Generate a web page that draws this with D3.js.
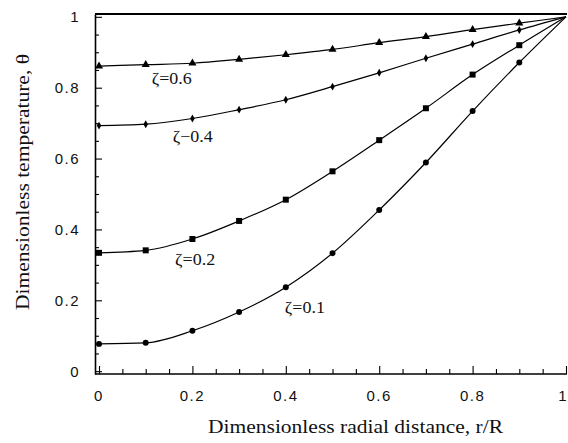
<!DOCTYPE html>
<html>
<head>
<meta charset="utf-8">
<script src="https://cdn.jsdelivr.net/npm/d3@7"></script>
<style>
  body { margin: 0; background: #fff; }
  .tickLabel { font-family: "Liberation Sans", Arial, sans-serif; font-size: 15px; letter-spacing: 1.5px; fill: #111; }
  .axisTitle { font-family: "Liberation Serif", "Times New Roman", serif; font-size: 18.5px; fill: #111; }
  .curveLabel { font-family: "Liberation Serif", "Times New Roman", serif; font-size: 16px; fill: #111; }
</style>
</head>
<body>
<div id="chart"></div>
<script>

// radial positions r/R
const rValues = [0, 0.1, 0.2, 0.3, 0.4, 0.5, 0.6, 0.7, 0.8, 0.9, 1.0];

// dimensionless temperature for each zeta
const theta06 = [0.861, 0.865, 0.869, 0.880, 0.893, 0.908, 0.927, 0.944, 0.964, 0.982, 1.0];
const theta04 = [0.693, 0.697, 0.713, 0.738, 0.766, 0.803, 0.842, 0.883, 0.923, 0.963, 1.0];
const theta02 = [0.334, 0.341, 0.373, 0.424, 0.484, 0.564, 0.652, 0.742, 0.837, 0.920, 1.0];
const theta01 = [0.077, 0.080, 0.114, 0.167, 0.237, 0.333, 0.455, 0.589, 0.734, 0.871, 1.0];

const seriesNames = ["ζ=0.6", "ζ−0.4", "ζ=0.2", "ζ=0.1"];
const seriesMarkers = ["triangle", "diamond", "square", "circle"];

const xTicks = [0, 0.2, 0.4, 0.6, 0.8, 1];
const yTicks = [0, 0.2, 0.4, 0.6, 0.8, 1];
const tickLabels = ["0", "0.2", "0.4", "0.6", "0.8", "1"];

/***** BASIC SETUP *****/

const width = 568;
const height = 443;

const svg = d3.select("#chart")
    .append("svg")
    .attr("width", width)
    .attr("height", height);

/***** SCALES *****/

const xScale = d3.scaleLinear()
    .domain([-0.0086, 1])
    .range([95, 566]);

const yScale = d3.scaleLinear()
    .domain([-0.008, 1.008])
    .range([374, 14]);

/***** AXES *****/

const minorTicks = d3.range(0, 1.0001, 0.05);
const isMajor = d => Math.abs(d * 5 - Math.round(d * 5)) < 1e-6;

// bottom axis, ticks point inward
svg.append("g")
    .attr("transform", `translate(0, ${yScale.range()[0]})`)
    .call(d3.axisTop(xScale)
        .tickValues(minorTicks)
        .tickSize(5)
        .tickSizeOuter(0)
        .tickFormat(""))
    .call(g => g.selectAll(".tick line").filter(isMajor).attr("y2", -8))
    .call(g => g.select(".domain").attr("stroke-width", 1.6).attr("d", `M${xScale.range()[0]},0H567`))
    .call(g => g.selectAll(".tick line").attr("stroke-width", 1.1));

// left axis
svg.append("g")
    .attr("transform", `translate(${xScale.range()[0]}, 0)`)
    .call(d3.axisRight(yScale)
        .tickValues(minorTicks)
        .tickSize(4)
        .tickSizeOuter(0)
        .tickFormat(""))
    .call(g => g.selectAll(".tick line").filter(isMajor).attr("x2", 7))
    .call(g => g.select(".domain").attr("stroke-width", 1.6))
    .call(g => g.selectAll(".tick line").attr("stroke-width", 1.1));

// top border
svg.append("line")
    .attr("x1", xScale.range()[0])
    .attr("x2", 567)
    .attr("y1", yScale.range()[1])
    .attr("y2", yScale.range()[1])
    .attr("stroke", "#000")
    .attr("stroke-width", 1.8);

// tick labels
svg.selectAll(".xTickLabel")
    .data(xTicks)
    .enter()
    .append("text")
    .attr("class", "tickLabel")
    .attr("x", d => d === 1 ? 568 : xScale(d))
    .attr("y", 400.5)
    .attr("text-anchor", d => d === 1 ? "end" : "middle")
    .text((d, i) => tickLabels[i]);

svg.selectAll(".yTickLabel")
    .data(yTicks)
    .enter()
    .append("text")
    .attr("class", "tickLabel")
    .attr("x", 80)
    .attr("y", d => yScale(d) + 5.5)
    .attr("text-anchor", "end")
    .text((d, i) => tickLabels[i]);

// axis titles
svg.append("text")
    .attr("class", "axisTitle")
    .attr("x", 208)
    .attr("y", 433)
    .attr("textLength", 295)
    .attr("lengthAdjust", "spacingAndGlyphs")
    .text("Dimensionless radial distance, r/R");

svg.append("text")
    .attr("class", "axisTitle")
    .attr("transform", "translate(29, 310) rotate(-90)")
    .attr("textLength", 256)
    .attr("lengthAdjust", "spacingAndGlyphs")
    .text("Dimensionless temperature, θ");

/***** CURVES *****/

const allSeries = [theta06, theta04, theta02, theta01].map((vals, i) => ({
    name: seriesNames[i],
    marker: seriesMarkers[i],
    values: vals.map((v, j) => ({r: rValues[j], t: v}))
}));

const line = d3.line()
    .x(d => xScale(d.r))
    .y(d => yScale(d.t))
    .curve(d3.curveMonotoneX);

const plot = svg.append("g").attr("id", "curves");

plot.selectAll(".curve")
    .data(allSeries)
    .enter()
    .append("path")
    .attr("class", "curve")
    .attr("d", d => line(d.values))
    .attr("fill", "none")
    .attr("stroke", "#000")
    .attr("stroke-width", 1.2);

const symbolTypes = {
    triangle: d3.symbolTriangle,
    diamond: d3.symbolDiamond,
    square: d3.symbolSquare,
    circle: d3.symbolCircle
};
const symbolSizes = {triangle: 28, diamond: 18, square: 36, circle: 28};

allSeries.forEach(s => {
    plot.selectAll(null)
        .data(s.values.filter(d => d.r < 0.95))
        .enter()
        .append("path")
        .attr("transform", d => `translate(${xScale(d.r)}, ${yScale(d.t)})`)
        .attr("d", d3.symbol().type(symbolTypes[s.marker]).size(symbolSizes[s.marker]))
        .attr("fill", "#000");
});

/***** CURVE LABELS *****/

const labelSpots = [[0.113, 0.811], [0.158, 0.648], [0.163, 0.300], [0.398, 0.164]];

svg.selectAll(".curveLabel")
    .data(allSeries)
    .enter()
    .append("text")
    .attr("class", "curveLabel")
    .attr("x", (d, i) => xScale(labelSpots[i][0]))
    .attr("y", (d, i) => yScale(labelSpots[i][1]))
    .attr("textLength", 40)
    .attr("lengthAdjust", "spacingAndGlyphs")
    .text(d => d.name);

</script>
</body>
</html>
